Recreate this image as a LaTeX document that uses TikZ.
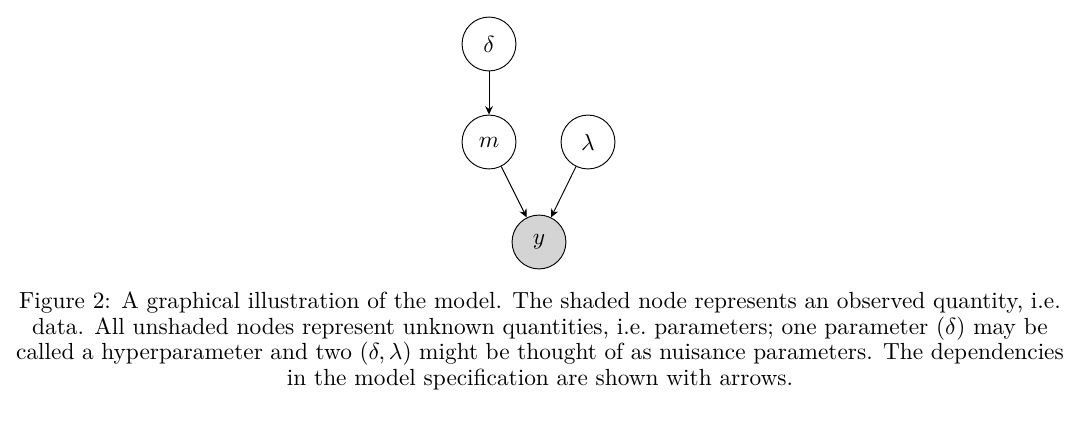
\documentclass[tikz,border=0pt]{standalone}
\usetikzlibrary{arrows.meta}
\begin{document}
\begin{tikzpicture}[x=0.4286pt,y=-0.4286pt,
  var/.style={circle,draw,thin,minimum size=23.1pt,inner sep=0pt,font=\fontsize{10}{12}\selectfont},
  obs/.style={var,fill=black!17},
  dep/.style={-{Stealth[length=3.6pt,width=3.3pt]},thin},
  captext/.style={align=flush center,text width=449pt,inner sep=0pt,font=\fontsize{10}{10.95}\selectfont}]
\useasboundingbox (0,0) rectangle (1080,424);
\node[var] (d) at (489,44) {$\delta$};
\node[var] (m) at (489,142) {$m$};
\node[var] (l) at (588,142) {$\lambda$};
\node[obs] (y) at (539,242) {$y$};
\draw[dep] (d) -- (m);
\draw[dep] (m) -- (y);
\draw[dep] (l) -- (y);
\node[captext] (c) at (540,341) {Figure 2: A graphical illustration of the model. The shaded node represents an observed quantity, i.e.\ data. All unshaded nodes represent unknown quantities, i.e.\ parameters; one parameter $(\delta)$ may be called a hyperparameter and two $(\delta,\lambda)$ might be thought of as nuisance parameters. The dependencies in the model specification are shown with arrows.};
\end{tikzpicture}
\end{document}
